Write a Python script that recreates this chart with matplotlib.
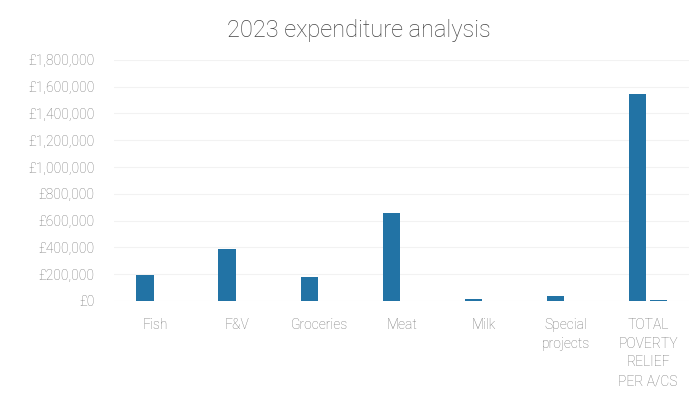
import numpy as np
import matplotlib.pyplot as plt
from matplotlib.ticker import FuncFormatter

categories = ['Fish', 'F&V', 'Groceries', 'Meat', 'Milk', 'Special\nprojects',
              'TOTAL\nPOVERTY\nRELIEF\nPER A/CS']
spend = [195000, 390000, 175000, 660000, 12000, 35000, 1545000]
spend_other = [0, 0, 0, 0, 0, 0, 9000]
y_ticks = np.arange(0, 1800001, 200000)

plt.rcParams['font.family'] = ['Roboto', 'DejaVu Sans']
grey = '#777777'

fig = plt.figure(figsize=(6.96, 4.05), dpi=100)
ax = fig.add_axes([0.164, 0.257, 0.826, 0.595])

x = np.arange(len(categories))
w = 0.21
ax.bar(x - w / 2 - 0.02, spend, width=w, color='#2273a5')
ax.bar(x + w / 2 + 0.02, spend_other, width=w, color='#2273a5')

ax.set_xlim(-0.5, len(categories) - 0.5)
ax.set_ylim(0, 1800000)
ax.set_yticks(y_ticks)
ax.yaxis.set_major_formatter(FuncFormatter(lambda v, p: '£{:,.0f}'.format(v)))
ax.set_xticks(x)
ax.set_xticklabels(categories, linespacing=1.45)
ax.tick_params(length=0, colors=grey, labelsize=10)
ax.tick_params(axis='y', pad=14)
ax.tick_params(axis='x', pad=12)
for lbl in ax.get_xticklabels() + ax.get_yticklabels():
    lbl.set_fontweight('light')

ax.grid(axis='y', color='#f2f2f2', linewidth=0.8)
ax.set_axisbelow(True)
for s in ax.spines.values():
    s.set_visible(False)

fig.text(0.515, 0.925, '2023 expenditure analysis', ha='center', va='center',
         fontsize=17, color='#444444', fontweight='light')

fig.savefig('out.png', dpi=100)
